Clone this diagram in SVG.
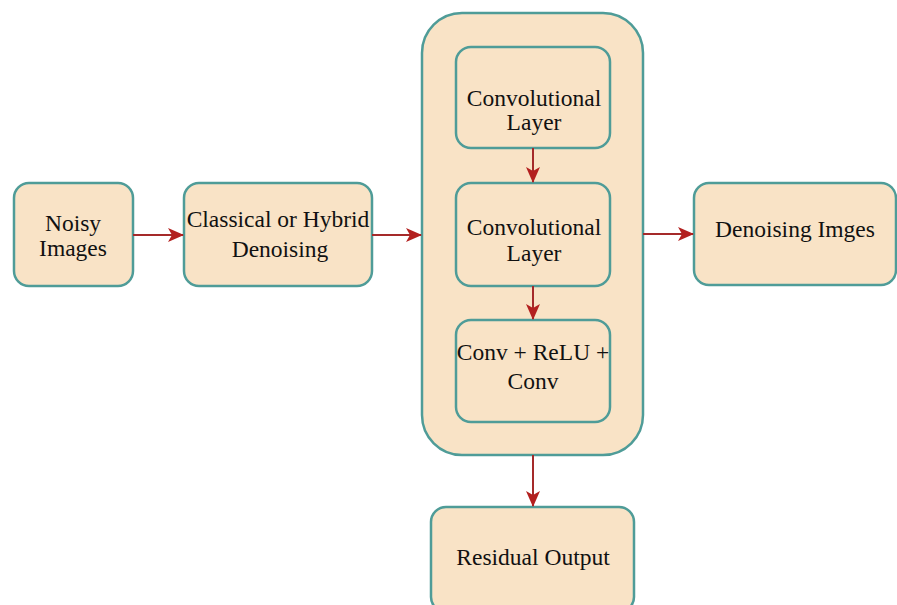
<svg xmlns="http://www.w3.org/2000/svg" width="897" height="605" viewBox="0 0 897 605">
<defs>
<style>
.box{fill:#f9e3c6;stroke:#4f9c98;stroke-width:2.5}
.lbl{font-family:"Liberation Serif","Times New Roman",serif;font-size:23.5px;fill:#111;text-anchor:middle}
.edge{stroke:#a52a2a;stroke-width:2;fill:none;marker-end:url(#ah)}
</style>
<marker id="ah" markerWidth="16" markerHeight="14" refX="15" refY="7" orient="auto" markerUnits="userSpaceOnUse">
<path d="M0,0 L16,7 L0,14 L4,7 Z" fill="#b3201f"/>
</marker>
</defs>
<rect width="897" height="605" fill="#ffffff"/>
<g id="container">
<rect class="box" x="422" y="13" width="221" height="442" rx="40"/>
</g>
<g id="noisy">
<rect class="box" x="14" y="183" width="119" height="103" rx="15"/>
<text class="lbl" x="73" y="231">Noisy</text>
<text class="lbl" x="73" y="256">Images</text>
</g>
<g id="classical">
<rect class="box" x="184" y="183" width="188" height="103" rx="15"/>
<text class="lbl" x="278" y="227">Classical or Hybrid</text>
<text class="lbl" x="280" y="257">Denoising</text>
</g>
<g id="conv1">
<rect class="box" x="456" y="47" width="154" height="101" rx="15"/>
<text class="lbl" x="534" y="106">Convolutional</text>
<text class="lbl" x="534" y="130">Layer</text>
</g>
<g id="conv2">
<rect class="box" x="456" y="183" width="154" height="103" rx="15"/>
<text class="lbl" x="534" y="235">Convolutional</text>
<text class="lbl" x="534" y="261">Layer</text>
</g>
<g id="convrelu">
<rect class="box" x="456" y="320" width="154" height="102" rx="15"/>
<text class="lbl" x="533" y="360">Conv + ReLU +</text>
<text class="lbl" x="533" y="389">Conv</text>
</g>
<g id="denoised">
<rect class="box" x="694" y="183" width="202" height="102" rx="15"/>
<text class="lbl" x="795" y="237">Denoising Imges</text>
</g>
<g id="residual">
<rect class="box" x="431" y="507" width="203" height="105" rx="15"/>
<text class="lbl" x="533" y="565">Residual Output</text>
</g>
<g id="connectors">
<line class="edge" x1="133" y1="235" x2="183" y2="235"/>
<line class="edge" x1="372" y1="235" x2="421" y2="235"/>
<line class="edge" x1="533" y1="148" x2="533" y2="182"/>
<line class="edge" x1="533" y1="286" x2="533" y2="319"/>
<line class="edge" x1="643" y1="234" x2="693" y2="234"/>
<line class="edge" x1="533" y1="455" x2="533" y2="506"/>
</g>
</svg>
